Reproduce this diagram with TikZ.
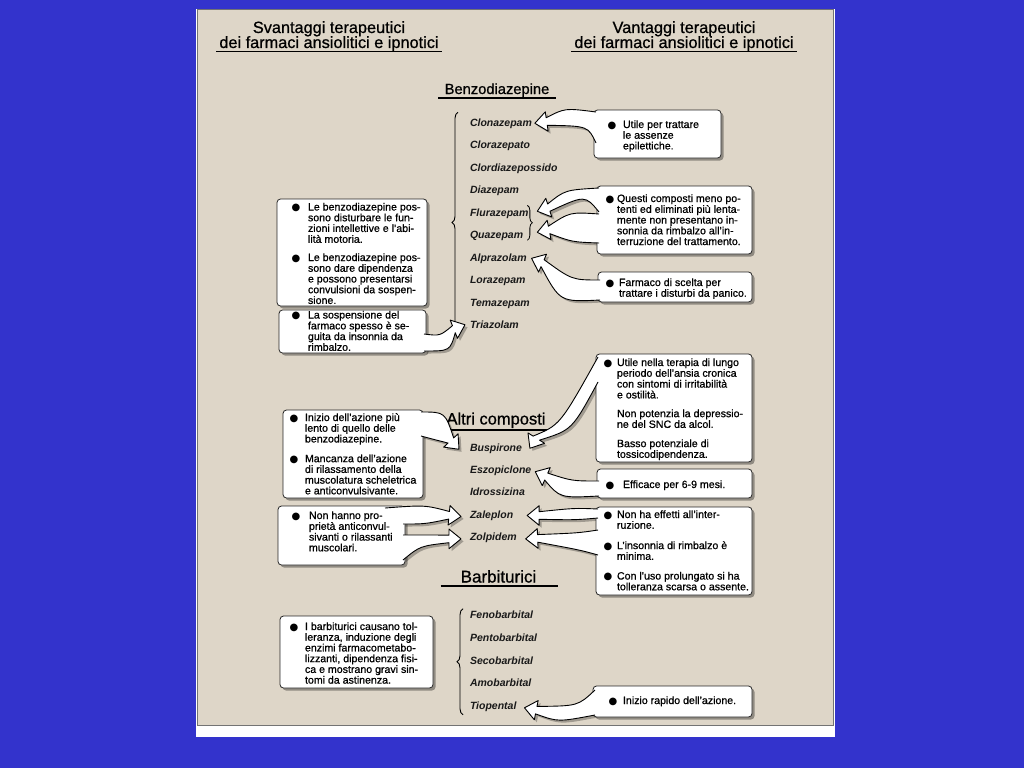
\documentclass[tikz,border=0pt]{standalone}
\usepackage{fontspec}
\setmainfont{Liberation Sans}
\newfontfamily\symf{DejaVu Sans}
\newfontfamily\heavyf{Liberation Sans}[FakeBold=0.8]
\usetikzlibrary{calc,fit,shadows,decorations.pathreplacing}
\definecolor{bgblue}{RGB}{51,51,204}
\definecolor{panel}{RGB}{222,214,200}
\pgfdeclarelayer{bg}\pgfdeclarelayer{sh}
\pgfsetlayers{bg,sh,main}
\newcommand\bl{{\symf\fontsize{10}{10}\selectfont ●}}
\newcommand\bxf{\heavyf\fontsize{10.6}{10.15}\selectfont}
\newcommand\drf{\fontsize{10.5}{10.5}\selectfont\bfseries\itshape}
\newcommand\ttlf[1]{\heavyf\fontsize{#1}{#1}\selectfont}
\tikzset{
  t/.style={inner sep=0pt, outer sep=0pt},
  drug/.style={t, anchor=base west, font=\drf, text=black!90},
  txt/.style={t, anchor=base west, font=\bxf},
  uline/.style={line width=1.1pt, black},
  curly/.style={decorate, decoration={brace, amplitude=6pt}, line width=0.9pt},
  smallcurly/.style={decorate, decoration={brace, amplitude=5pt}, line width=0.8pt},
  box/.style={draw=black!85, line width=0.8pt, fill=white, rounded corners=3.5pt,
    inner sep=0pt, outer sep=0pt,
    drop shadow={shadow xshift=2.5pt, shadow yshift=-2.5pt, opacity=0.35, fill=black}},
  fatarrow/.style={fill=white, draw=black, line width=0.9pt, line join=round},
  arrshadow/.style={fill=black, opacity=0.28, transform canvas={shift={(2.5pt,-2.5pt)}}},
}
% name, D offset, tip, P1, C1, C2, P2
\newcommand\fatarrow[7]{%
  \coordinate (#1-t) at (#3);
  \coordinate (#1-d) at ($(#1-t)+(#2)$);
  \coordinate (#1-h) at ($(#1-t)!12pt!(#1-d)$);
  \coordinate (#1-n1) at ($(#1-h)!3.8pt!90:(#1-t)$);
  \coordinate (#1-n2) at ($(#1-h)!3.8pt!-90:(#1-t)$);
  \coordinate (#1-w1) at ($(#1-h)!9.8pt!90:(#1-t)$);
  \coordinate (#1-w2) at ($(#1-h)!9.8pt!-90:(#1-t)$);
  \begin{pgfonlayer}{sh}
  \fill[arrshadow] (#4) .. controls (#5) .. (#1-n1) -- (#1-w1) -- (#1-t) -- (#1-w2) -- (#1-n2) .. controls (#6) .. (#7) -- cycle;
  \end{pgfonlayer}
  \filldraw[fatarrow] (#4) .. controls (#5) .. (#1-n1) -- (#1-w1) -- (#1-t) -- (#1-w2) -- (#1-n2) .. controls (#6) .. (#7);
}
\begin{document}
\begin{tikzpicture}[x=1pt, y=-1pt]
\useasboundingbox (0,0) rectangle (1024,768);
\begin{pgfonlayer}{bg}
\fill[bgblue] (0,0) rectangle (1024,768);
\fill[white] (196,9) rectangle (835,737);
\filldraw[fill=panel, draw=black!55, line width=0.8pt] (197,9) rectangle (833,725);
\end{pgfonlayer}

% headers
\node[t, anchor=base, font=\ttlf{16.3}] (hL1) at (329,33) {Svantaggi terapeutici};
\node[t, anchor=base, font=\ttlf{16.3}] (hL2) at (329,48) {dei farmaci ansiolitici e ipnotici};
\draw[uline] ($(hL2.base)+(-113,3.5)$) -- ($(hL2.base)+(113,3.5)$);
\node[t, anchor=base, font=\ttlf{16.3}] (hR1) at (684,33) {Vantaggi terapeutici};
\node[t, anchor=base, font=\ttlf{16.3}] (hR2) at (684,48) {dei farmaci ansiolitici e ipnotici};
\draw[uline] ($(hR2.base)+(-113,3.5)$) -- ($(hR2.base)+(113,3.5)$);

% section titles
\node[t, anchor=base, font=\ttlf{14.7}] (bz) at (497,94) {Benzodiazepine};
\draw[uline] ($(bz.base)+(-59,4)$) -- ($(bz.base)+(59,4)$);
\node[t, anchor=base, font=\ttlf{16.5}] (ac) at (496,424.5) {Altri composti};
\draw[uline] ($(ac.base)+(-56,5.5)$) -- ($(ac.base)+(52,5.5)$);
\node[t, anchor=base, font=\ttlf{17}] (bb) at (498.5,582.5) {Barbiturici};
\draw[uline] ($(bb.base)+(-58,3.5)$) -- ($(bb.base)+(59,3.5)$);

% drug names
\node[drug] (d1) at (470,126) {Clonazepam};
\node[drug] (d2) at (470,148.5) {Clorazepato};
\node[drug] (d3) at (470,171) {Clordiazepossido};
\node[drug] (d4) at (470,193.5) {Diazepam};
\node[drug] (d5) at (470,216) {Flurazepam};
\node[drug] (d6) at (470,238.5) {Quazepam};
\node[drug] (d7) at (470,261) {Alprazolam};
\node[drug] (d8) at (470,283.5) {Lorazepam};
\node[drug] (d9) at (470,306) {Temazepam};
\node[drug] (d10) at (470,328.5) {Triazolam};

\node[drug] (o1) at (470,451) {Buspirone};
\node[drug] (o2) at (470,473.4) {Eszopiclone};
\node[drug] (o3) at (470,495.8) {Idrossizina};
\node[drug] (o4) at (470,518.2) {Zaleplon};
\node[drug] (o5) at (470,540.6) {Zolpidem};

\node[drug] (b1) at (470,618.5) {Fenobarbital};
\node[drug] (b2) at (470,641.25) {Pentobarbital};
\node[drug] (b3) at (470,664) {Secobarbital};
\node[drug] (b4) at (470,686.75) {Amobarbital};
\node[drug] (b5) at (470,709.5) {Tiopental};

% braces
\draw[curly] ($(d10.west)+(-12,8)$) -- ($(d1.west)+(-12,-11)$);
\draw[smallcurly] ($(d5.east)+(-1,-8)$) -- ($(d5.east)+(-1,27)$);
\draw[curly] ($(b5.west)+(-7,8)$) -- ($(b1.west)+(-7,-6)$);

% boxes
\node[box, fit={(594,110) (721,158)}] (bA) {};
\node[box, fit={(597,186) (752,254)}] (bB) {};
\node[box, fit={(598,272) (752,302)}] (bC) {};
\node[box, fit={(277,199) (427,306)}] (bD) {};
\node[box, fit={(279,310) (426,353)}] (bE) {};
\node[box, fit={(596,354) (752,462)}] (bF) {};
\node[box, fit={(597,469) (752,498)}] (bG) {};
\node[box, fit={(596,507) (752,595)}] (bH) {};
\node[box, fit={(283,410) (423,498)}] (bI) {};
\node[box, fit={(278,506) (405,565)}] (bJ) {};
\node[box, fit={(280,616) (433,688)}] (bK) {};
\node[box, fit={(593,686) (752,717)}] (bL) {};

% box texts
\node[txt] (tA) at (607.5,128) {\begin{tabular}[t]{@{}p{15.5pt}@{}l@{}}\bl & Utile per trattare\\ & le assenze\\ & epilettiche.\end{tabular}};
\node[txt] (tB) at (605.5,202) {\begin{tabular}[t]{@{}p{11.5pt}@{}l@{}}\bl & Questi composti meno po-\\ & tenti ed eliminati più lenta-\\ & mente non presentano in-\\ & sonnia da rimbalzo all’in-\\ & terruzione del trattamento.\end{tabular}};
\node[txt] (tC) at (605.5,286) {\begin{tabular}[t]{@{}p{13.5pt}@{}l@{}}\bl & Farmaco di scelta per\\ & trattare i disturbi da panico.\end{tabular}};
\node[txt] (tD) at (291.5,210.5) {\begin{tabular}[t]{@{}p{16.5pt}@{}l@{}}\bl & Le benzodiazepine pos-\\ & sono disturbare le fun-\\ & zioni intellettive e l’abi-\\ & lità motoria.\\[7.5pt] \bl & Le benzodiazepine pos-\\ & sono dare dipendenza\\ & e possono presentarsi\\ & convulsioni da sospen-\\ & sione.\end{tabular}};
\node[txt] (tE) at (291.5,318.5) {\begin{tabular}[t]{@{}p{16.5pt}@{}l@{}}\bl & La sospensione del\\ & farmaco spesso è se-\\ & guita da insonnia da\\ & rimbalzo.\end{tabular}};
\node[txt] (tF) at (603.5,366) {\begin{tabular}[t]{@{}p{13.5pt}@{}l@{}}\bl & Utile nella terapia di lungo\\ & periodo dell’ansia cronica\\ & con sintomi di irritabilità\\ & e ostilità.\\[8pt] & Non potenzia la depressio-\\ & ne del SNC da alcol.\\[8.5pt] & Basso potenziale di\\ & tossicodipendenza.\end{tabular}};
\node[txt] (tG) at (605.5,488) {\begin{tabular}[t]{@{}p{17.5pt}@{}l@{}}\bl & Efficace per 6-9 mesi.\end{tabular}};
\node[txt] (tH) at (603.5,518) {\begin{tabular}[t]{@{}p{13.5pt}@{}l@{}}\bl & Non ha effetti all’inter-\\ & ruzione.\\[9.5pt] \bl & L’insonnia di rimbalzo è\\ & minima.\\[9pt] \bl & Con l’uso prolungato si ha\\ & tolleranza scarsa o assente.\end{tabular}};
\node[txt] (tI) at (289.5,421) {\begin{tabular}[t]{@{}p{15.5pt}@{}l@{}}\bl & Inizio dell’azione più\\ & lento di quello delle\\ & benzodiazepine.\\[9pt] \bl & Mancanza dell’azione\\ & di rilassamento della\\ & muscolatura scheletrica\\ & e anticonvulsivante.\end{tabular}};
\node[txt] (tJ) at (291.5,519) {\begin{tabular}[t]{@{}p{17.5pt}@{}l@{}}\bl & Non hanno pro-\\ & prietà anticonvul-\\ & sivanti o rilassanti\\ & muscolari.\end{tabular}};
\node[txt] (tK) at (289.5,630) {\begin{tabular}[t]{@{}p{15.5pt}@{}l@{}}\bl & I barbiturici causano tol-\\ & leranza, induzione degli\\ & enzimi farmacometabo-\\ & lizzanti, dipendenza fisi-\\ & ca e mostrano gravi sin-\\ & tomi da astinenza.\end{tabular}};
\node[txt] (tL) at (608.5,704) {\begin{tabular}[t]{@{}p{14.5pt}@{}l@{}}\bl & Inizio rapido dell’azione.\end{tabular}};

% fat arrows
\fatarrow{aA}{27,-4}{$(d1.east)+(3,0)$}{$(bA.north west)+(2,33)$}{$(bA.north west)+(-6,16)$}{$(bA.north west)+(-29,-2)$}{$(bA.north west)+(2,2)$}
\fatarrow{aB1}{25,-8}{$(d5.east)+(9,-2)$}{$(bB.north west)+(2,26)$}{$(bB.north west)+(-12,9)$}{$(bB.north west)+(-32,4)$}{$(bB.north west)+(2,2)$}
\fatarrow{aB2}{25,-5}{$(d5.east)+(9,19)$}{$(bB.north west)+(2,57)$}{$(bB.north west)+(-25,56)$}{$(bB.north west)+(-27,26)$}{$(bB.north west)+(2,28)$}
\fatarrow{aC}{18,8}{$(d7.east)+(5,0)$}{$(bC.north west)+(2,28)$}{$(bC.north west)+(-38,30)$}{$(bC.north west)+(-26,8)$}{$(bC.north west)+(2,8)$}
\fatarrow{aE}{-20,8}{$(d10.west)+(-5,0)$}{$(bE.south east)+(-2,-19)$}{$(bE.south east)+(14,-17)$}{$(bE.south east)+(24,-2)$}{$(bE.south east)+(-2,-2)$}
\fatarrow{aF}{10,-16}{$(o1.east)+(8,0)$}{$(bF.north west)+(2,28)$}{$(bF.north west)+(-24,76)$}{$(bF.north west)+(-36,71)$}{$(bF.north west)+(2,3)$}
\fatarrow{aG}{18,8}{$(o2.east)+(4,1)$}{$(bG.north west)+(2,27)$}{$(bG.north west)+(-37,29)$}{$(bG.north west)+(-25,12)$}{$(bG.north west)+(2,12)$}
\fatarrow{aH1}{24,0}{$(o4.east)+(14,0)$}{$(bH.north west)+(2,11)$}{$(bH.north west)+(-21,13)$}{$(bH.north west)+(-21,1)$}{$(bH.north west)+(2,2)$}
\fatarrow{aH2}{24,-1}{$(o5.east)+(9,1)$}{$(bH.north west)+(2,48)$}{$(bH.north west)+(-16,43)$}{$(bH.north west)+(-18,26)$}{$(bH.north west)+(2,23)$}
\fatarrow{aI}{-12,-13}{$(o1.west)+(-11,1)$}{$(bI.north east)+(-2,2)$}{$(bI.north east)+(22,2)$}{$(bI.north east)+(13,30)$}{$(bI.north east)+(-2,26)$}
\fatarrow{aJ1}{-20,-2}{$(o4.west)+(-9,1)$}{$(bJ.north east)+(-20,2)$}{$(bJ.north east)+(20,-1)$}{$(bJ.north east)+(20,18)$}{$(bJ.north east)+(-2,18)$}
\fatarrow{aJ2}{-20,0}{$(o5.west)+(-9,1)$}{$(bJ.north east)+(-2,29)$}{$(bJ.north east)+(23,29)$}{$(bJ.north east)+(15,40)$}{$(bJ.north east)+(-2,54)$}
\fatarrow{aL}{20,4}{$(b5.east)+(8,1)$}{$(bL.north west)+(2,29)$}{$(bL.north west)+(-35,36)$}{$(bL.north west)+(-15,20)$}{$(bL.north west)+(2,4)$}
\end{tikzpicture}
\end{document}
